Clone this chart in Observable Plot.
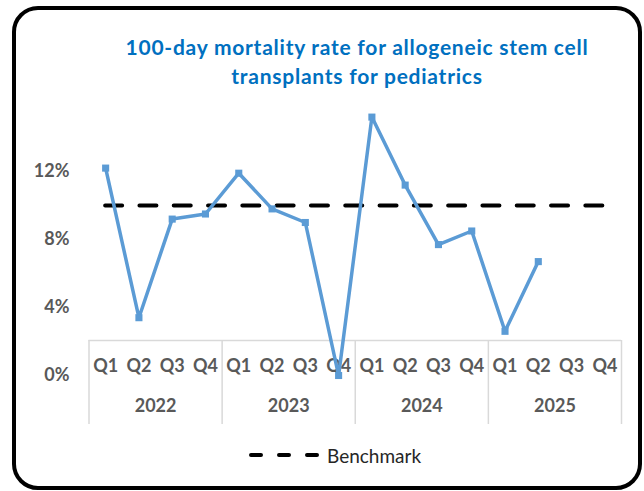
<!DOCTYPE html>
<html>
<head>
<meta charset="utf-8">
<script src="https://cdn.jsdelivr.net/npm/d3@7"></script>
<script src="https://cdn.jsdelivr.net/npm/@observablehq/plot@0.6"></script>
<style>
  html, body { margin: 0; padding: 0; background: #fff; }
  #wrap { position: relative; width: 644px; height: 491px; overflow: hidden; background: #fff; }
  #frame { position: absolute; left: 12px; top: 6px; width: 630px; height: 484px; box-sizing: border-box;
           border: 4px solid #000; border-radius: 26px; }
  #chart { position: absolute; left: 0; top: 0; }
  #title { position: absolute; left: 357px; top: 32px; transform: translateX(-50%); white-space: nowrap;
           text-align: center; color: #0070C0; font-family: Lato, sans-serif; font-weight: bold;
           font-size: 21px; letter-spacing: 0.75px; line-height: 29px; }
  #legend { position: absolute; left: 247px; top: 442px; height: 26px; display: flex; align-items: center;
            font-family: Lato, sans-serif; font-size: 19px; color: #262626; }
  #legend svg { margin-right: 6px; }
</style>
</head>
<body>
<div id="wrap">
  <div id="frame"></div>
  <div id="chart"></div>
  <div id="title">100-day mortality rate for allogeneic stem cell<br>transplants for pediatrics</div>
  <div id="legend"><svg width="74" height="10"><line x1="4" y1="5" x2="70" y2="5" stroke="#000" stroke-width="4" stroke-linecap="round" stroke-dasharray="10,18"/></svg><span>Benchmark</span></div>
</div>
<script>
const years = ["2022", "2023", "2024", "2025"];
const quarters = ["Q1", "Q2", "Q3", "Q4"];
const rates = [12.2, 3.4, 9.2, 9.5, 11.9, 9.8, 9.0, 0, 15.2, 11.2, 7.7, 8.5, 2.6, 6.7, null, null];
const benchmark = 10;
const yTicks = [0, 4, 8, 12];

const rows = rates.map((v, i) => ({ i, year: years[Math.floor(i / 4)], q: quarters[i % 4], v }));
const n = rows.length;
const boundaries = years.map((y, j) => j * 4 - 0.5).concat([n - 0.5]);

const blue = "#5B9BD5";
const grid = "#d9d9d9";

const chart = Plot.plot({
  width: 644,
  height: 491,
  marginLeft: 88.5,
  marginRight: 23,
  marginTop: 103,
  marginBottom: 116,
  x: { domain: [-0.5, n - 0.5], axis: null },
  y: { domain: [0, 16], axis: null },
  style: { fontFamily: "Lato, sans-serif", fontSize: "18px", fontWeight: "bold", color: "#595959", background: "transparent", overflow: "visible" },
  marks: [
    Plot.ruleY([0], { x1: -0.5, x2: n - 0.5, dy: -35, stroke: grid, strokeWidth: 1.5 }),
    Plot.ruleX(boundaries, { stroke: grid, strokeWidth: 1.5, insetTop: 237, insetBottom: -49 }),
    Plot.text(rows, { x: "i", text: "q", frameAnchor: "bottom", dy: -4, fill: "#595959" }),
    Plot.text(years, { x: (d, j) => j * 4 + 1.5, text: d => d, frameAnchor: "bottom", dy: 36, fill: "#595959" }),
    Plot.axisY({ ticks: yTicks, tickFormat: d => d + "%", tickSize: 0, tickPadding: 19.5, fill: "#595959", label: null }),
    Plot.ruleY([benchmark], { x1: 0, x2: n - 1, stroke: "#000", strokeWidth: 4, strokeLinecap: "round", strokeDasharray: "17,17.3" }),
    Plot.line(rows, { x: "i", y: "v", stroke: blue, strokeWidth: 3.5, strokeLinejoin: "miter" }),
    Plot.dot(rows.filter(d => d.v != null), { x: "i", y: "v", symbol: "square", r: 4, fill: blue, stroke: "none" })
  ]
});
document.getElementById("chart").append(chart);
</script>
</body>
</html>
